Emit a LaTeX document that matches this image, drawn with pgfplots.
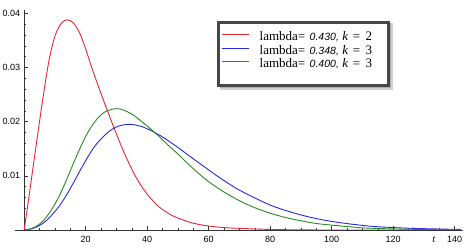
\documentclass[border=0pt]{standalone}
\usepackage{pgfplots}
\pgfplotsset{compat=1.18}
\usepackage{fontspec}
\setmainfont{Liberation Serif}
\newfontfamily\ticksf{Liberation Sans}
\newcommand{\numf}{\ticksf\itshape\fontsize{10.5}{12}\selectfont}
\definecolor{cRed}{RGB}{228,40,52}
\definecolor{cBlue}{RGB}{40,40,220}
\definecolor{cGreen}{RGB}{40,138,40}
\begin{document}
\begin{tikzpicture}
\path[use as bounding box] (0,0) rectangle (467pt,251pt);
\begin{axis}[
  at={(15pt,21pt)}, anchor=south west,
  scale only axis, width=448pt, height=220pt,
  xmin=-3, xmax=142.7, ymin=0, ymax=0.0406,
  axis lines=middle,
  axis line style={-, black!80, line width=0.6pt},
  tick align=inside,
  tick style={black!80, line width=0.5pt},
  major tick length=4pt, minor tick length=2pt,
  xtick={20,40,60,80,100,120,140},
  xticklabels={20,40,60,80,100,120,140},
  minor xtick={5,10,15,25,30,35,45,50,55,65,70,75,85,90,95,105,110,115,125,130,135},
  scaled y ticks=false,
  ytick={0.01,0.02,0.03,0.04},
  yticklabels={0.01,0.02,0.03,0.04},
  minor ytick={0.002,0.004,0.006,0.008,0.012,0.014,0.016,0.018,0.022,0.024,0.026,0.028,0.032,0.034,0.036,0.038},
  /pgf/number format/assume math mode=true,
  xticklabel style={font=\ticksf\fontsize{9}{9}\selectfont, anchor=north, inner sep=0pt, yshift=-6pt},
  yticklabel style={font=\ticksf\fontsize{9}{9}\selectfont, anchor=east, inner sep=0pt, xshift=-4pt},
  xlabel={\textit{t}},
  every axis x label/.style={at={(axis description cs:0.935,-0.0455)}, anchor=center, font=\fontsize{10.5}{10.5}\selectfont},
  legend image code/.code={\draw[#1] (0pt,2.6pt) -- (27pt,2.6pt);},
  legend cell align=left,
  legend style={at={(axis description cs:0.455,0.9445)}, anchor=north west,
    draw=none, fill=none,
    font=\fontsize{13}{15}\selectfont,
    inner xsep=2.5pt, inner ysep=8pt, row sep=0pt,
    nodes={inner sep=1.5pt},
    /tikz/every odd column/.append style={column sep=8.7pt},
    /tikz/every even column/.append style={text height=9pt, text depth=3pt}},
]
\fill[black!18] ([xshift=1pt,yshift=-1pt]axis description cs:0.4549,0.9445) rectangle ([xshift=4.5pt,yshift=-4.5pt]axis description cs:0.8337,0.6582);
\fill[black!32] ([xshift=1pt,yshift=-1pt]axis description cs:0.4549,0.9445) rectangle ([xshift=3pt,yshift=-3pt]axis description cs:0.8337,0.6582);
\draw[black!72, line width=3pt, fill=white] (axis description cs:0.4549,0.9445) rectangle (axis description cs:0.8337,0.6582);
\addplot[cRed, line width=0.9pt, smooth] coordinates {
(0,0) (2,0.0080) (4,0.0161) (6,0.0240) (8,0.0311) (10,0.0358) (12,0.0381) (14,0.0388)
(16,0.0382) (18,0.0364) (20,0.0334) (22,0.0299)
(24,0.0267) (26,0.0236) (28,0.0206) (30,0.0177) (32,0.0149) (34,0.0124) (36,0.0101)
(38,0.0082) (40,0.0066) (42,0.0053) (44,0.0042) (46,0.0034) (48,0.0027) (50,0.0022)
(54,0.0014) (58,0.0009) (62,0.0006) (66,0.0004) (70,0.0003) (80,0.0001) (90,0.00003) (100,0) (142,0)
};
\addlegendentry{lambda=\hspace{4.5pt}{\numf 0.430,}\hspace{3.5pt}\textit{k}\hspace{4.5pt}=\hspace{5.5pt}2}
\addplot[cBlue, line width=0.9pt, smooth] coordinates {
(0,0) (2.3,0.0002) (4.6,0.0007) (6.9,0.0016) (9.2,0.0029) (11.5,0.0045) (13.8,0.0065)
(16.1,0.0088) (18.4,0.0112) (20.7,0.0135) (23.0,0.0155) (25.3,0.0170) (27.6,0.0182)
(29.9,0.0190) (32.2,0.0194) (34.5,0.0195) (36.8,0.0193) (39.1,0.0189) (41.4,0.0183)
(43.7,0.0176) (46.0,0.0168) (48.3,0.0159) (50.6,0.0150) (52.9,0.0140) (57.5,0.0121) (63.2,0.0098)
(68.9,0.0077) (74.7,0.0060) (80.4,0.0045) (86.2,0.0034) (91.9,0.0025) (97.7,0.0018)
(103.4,0.0013) (109.2,0.0009) (114.9,0.0006) (126.4,0.0003) (142,0.0001)
};
\addlegendentry{lambda=\hspace{4.5pt}{\numf 0.348,}\hspace{3.5pt}\textit{k}\hspace{4.5pt}=\hspace{5.5pt}3}
\addplot[cGreen, line width=0.9pt, smooth] coordinates {
(0,0) (2,0.0002) (4,0.0007) (6,0.0016) (8,0.0030) (10,0.0048) (12,0.0070) (14,0.0096)
(16,0.0123) (18,0.0149) (20,0.0173) (22,0.0192) (24,0.0207) (26,0.0217) (28,0.0222)
(30,0.0224) (32,0.0222) (34,0.0217) (36,0.0210) (38,0.0201) (40,0.0192) (42,0.0182)
(44,0.0172) (46,0.0161) (50,0.0140) (55,0.0113) (60,0.0089) (65,0.0070) (70,0.0054) (75,0.0041)
(80,0.0031) (85,0.0023) (90,0.0017) (95,0.0012) (100,0.0009) (110,0.0004) (120,0.0002)
(130,0.0001) (142,0.00003)
};
\addlegendentry{lambda=\hspace{4.5pt}{\numf 0.400,}\hspace{3.5pt}\textit{k}\hspace{4.5pt}=\hspace{5.5pt}3}
\end{axis}
\end{tikzpicture}
\end{document}
